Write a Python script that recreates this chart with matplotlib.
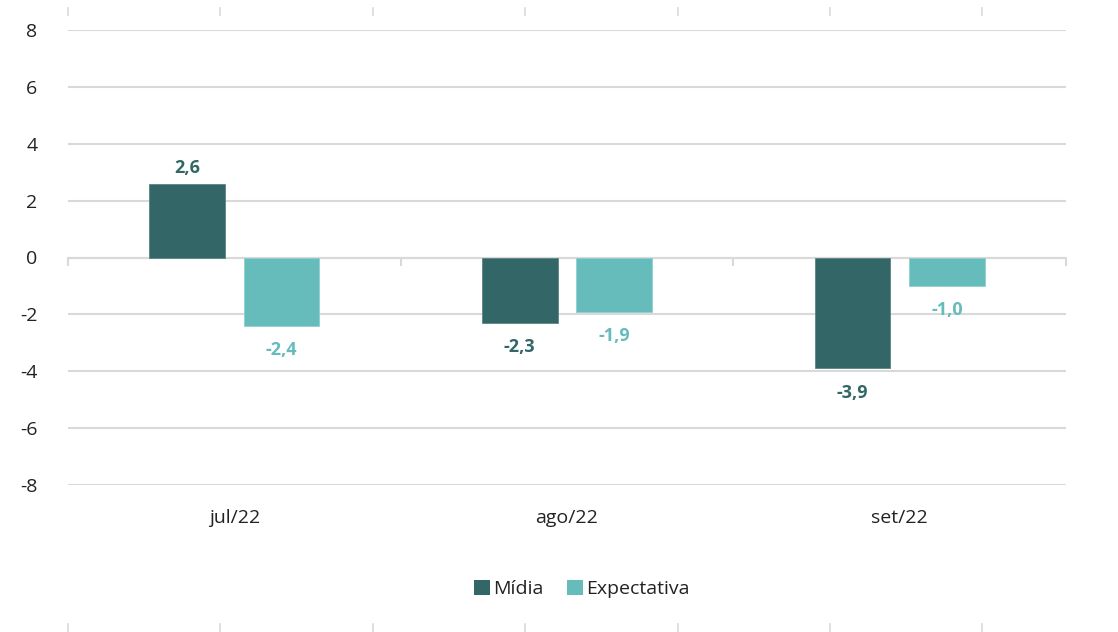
import numpy as np
import matplotlib.pyplot as plt
from matplotlib.lines import Line2D
from matplotlib.patches import Patch

plt.rcParams['font.family'] = ['Open Sans', 'DejaVu Sans']

categories = ['jul/22', 'ago/22', 'set/22']
midia = [2.6, -2.3, -3.9]
expectativa = [-2.4, -1.9, -1.0]
series_names = ['Mídia', 'Expectativa']

c_dark = '#336666'
c_light = '#66BBBB'
grid_c = '#D9D9D9'

fig = plt.figure(figsize=(11.18, 6.32), dpi=100)
ax = fig.add_axes([68/1118, 1-485/632, (1066-68)/1118, (485-30)/632])

x = np.arange(len(categories))
w = 0.228
off = 0.142
b1 = ax.bar(x - off, midia, w, color=c_dark, edgecolor='#5a8585', linewidth=0.6, zorder=3)
b2 = ax.bar(x + off, expectativa, w, color=c_light, edgecolor='#8fcfcf', linewidth=0.6, zorder=3)

for bars, vals, col in [(b1, midia, c_dark), (b2, expectativa, c_light)]:
    for b, v in zip(bars, vals):
        lab = ('%.1f' % v).replace('.', ',')
        if v >= 0:
            ax.annotate(lab, (b.get_x() + b.get_width()/2, v), xytext=(0, 5), textcoords='offset points',
                        ha='center', va='bottom', fontsize=13, fontweight='bold', color=col)
        else:
            ax.annotate(lab, (b.get_x() + b.get_width()/2, v), xytext=(0, -11), textcoords='offset points',
                        ha='center', va='top', fontsize=13, fontweight='bold', color=col)

ax.set_xlim(-0.5, len(categories) - 0.5)
ax.set_ylim(-8, 8)
ax.set_yticks(np.arange(-8, 9, 2))
ax.set_yticklabels([str(v) for v in range(-8, 9, 2)])
ax.grid(axis='y', color=grid_c, linewidth=1.5, zorder=0)
ax.set_axisbelow(True)

for s in ['top', 'right', 'left']:
    ax.spines[s].set_visible(False)
ax.spines['bottom'].set_position(('data', 0))
ax.spines['bottom'].set_color(grid_c)
ax.spines['bottom'].set_linewidth(1.5)

ax.set_xticks(x)
ax.set_xticklabels([])
ax.tick_params(axis='x', length=0, pad=0)
ax.set_xticks(np.arange(-0.5, len(categories), 1), minor=True)
ax.tick_params(axis='x', which='minor', length=6, width=1.5, color=grid_c, direction='out')
ax.tick_params(axis='y', length=0, pad=22, labelsize=14, labelcolor='#222222')

# category labels below the plot area
trans = ax.get_xaxis_transform()
for xi, c in zip(x, categories):
    ax.text(xi, -0.072, c, transform=trans, ha='center', va='center', fontsize=14, color='#222222')

handles = [Patch(facecolor=c_dark), Patch(facecolor=c_light)]
fig.legend(handles, series_names, loc='center', bbox_to_anchor=(582/1118, 1-589/632), ncol=2,
           frameon=False, fontsize=14, handlelength=0.8, handleheight=0.8, handletextpad=0.2,
           columnspacing=1.2, labelcolor='#222222')

# decorative border marks
for px in [68, 220, 373, 525, 678, 830, 982]:
    xf = px / 1118
    fig.add_artist(Line2D([xf, xf], [1-8/632, 1-15/632], color=grid_c, linewidth=1.2))
    fig.add_artist(Line2D([xf, xf], [1-624/632, 0], color=grid_c, linewidth=1.2))

fig.savefig('out.png', dpi=100)
